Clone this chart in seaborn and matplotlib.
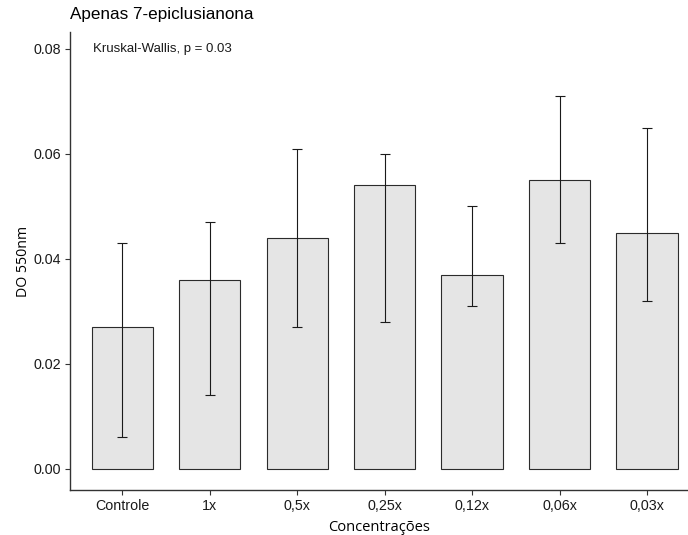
import matplotlib
matplotlib.use("Agg")
import matplotlib.pyplot as plt
import seaborn as sns
import pandas as pd
import numpy as np

categories = ["Controle", "1x", "0,5x", "0,25x", "0,12x", "0,06x", "0,03x"]
values = [0.027, 0.036, 0.044, 0.054, 0.037, 0.055, 0.045]
err_low = [0.006, 0.014, 0.027, 0.028, 0.031, 0.043, 0.032]
err_high = [0.043, 0.047, 0.061, 0.060, 0.050, 0.071, 0.065]
y_ticks = [0.00, 0.02, 0.04, 0.06, 0.08]
y_tick_labels = ["0.00", "0.02", "0.04", "0.06", "0.08"]

sns.set_theme(style="ticks")
plt.rcParams['font.family'] = ['Liberation Sans', 'DejaVu Sans']

df = pd.DataFrame({"Concentrações": categories, "DO 550nm": values})

fig = plt.figure(figsize=(6.88, 5.35), dpi=100)
ax = fig.add_axes([70/688, 45/535, 618/688, 458/535])

sns.barplot(data=df, x="Concentrações", y="DO 550nm", order=categories,
            color="#E5E5E5", edgecolor="#2b2b2b", linewidth=0.8,
            width=0.7, errorbar=None, saturation=1, ax=ax)

vals = np.array(values)
yerr = np.vstack([vals - np.array(err_low), np.array(err_high) - vals])
ax.errorbar(np.arange(len(categories)), vals, yerr=yerr, fmt="none",
            ecolor="#1a1a1a", elinewidth=0.8, capsize=3.5, capthick=0.8)

ax.set_xlim(-0.6, 6.47)
ax.set_ylim(-0.004, 0.0832)
ax.set_yticks(y_ticks)
ax.set_yticklabels(y_tick_labels)

for s in ["top", "right"]:
    ax.spines[s].set_visible(False)
for s in ["left", "bottom"]:
    ax.spines[s].set_color("#333333")
    ax.spines[s].set_linewidth(1.0)
ax.tick_params(axis="both", colors="#333333", labelcolor="#1a1a1a",
               labelsize=10.3, length=3.5, width=0.8, pad=3)

ax.set_xlabel("Concentrações", fontsize=10.5, color="black", labelpad=5,
              family=["Open Sans", "DejaVu Sans"])
ax.set_ylabel("DO 550nm", fontsize=10.2, color="black", labelpad=2,
              family=["Open Sans", "DejaVu Sans"])

ax.annotate("Kruskal-Wallis, p = 0.03", xy=(93/688, 0.08), xycoords=("figure fraction", "data"),
            fontsize=9.5, va="center", ha="left", color="#1a1a1a")

fig.text(70/688, 1 - 15/535, "Apenas 7-epiclusianona", fontsize=12.3, ha="left", va="center",
         color="black")

fig.savefig("out.png", dpi=100)
